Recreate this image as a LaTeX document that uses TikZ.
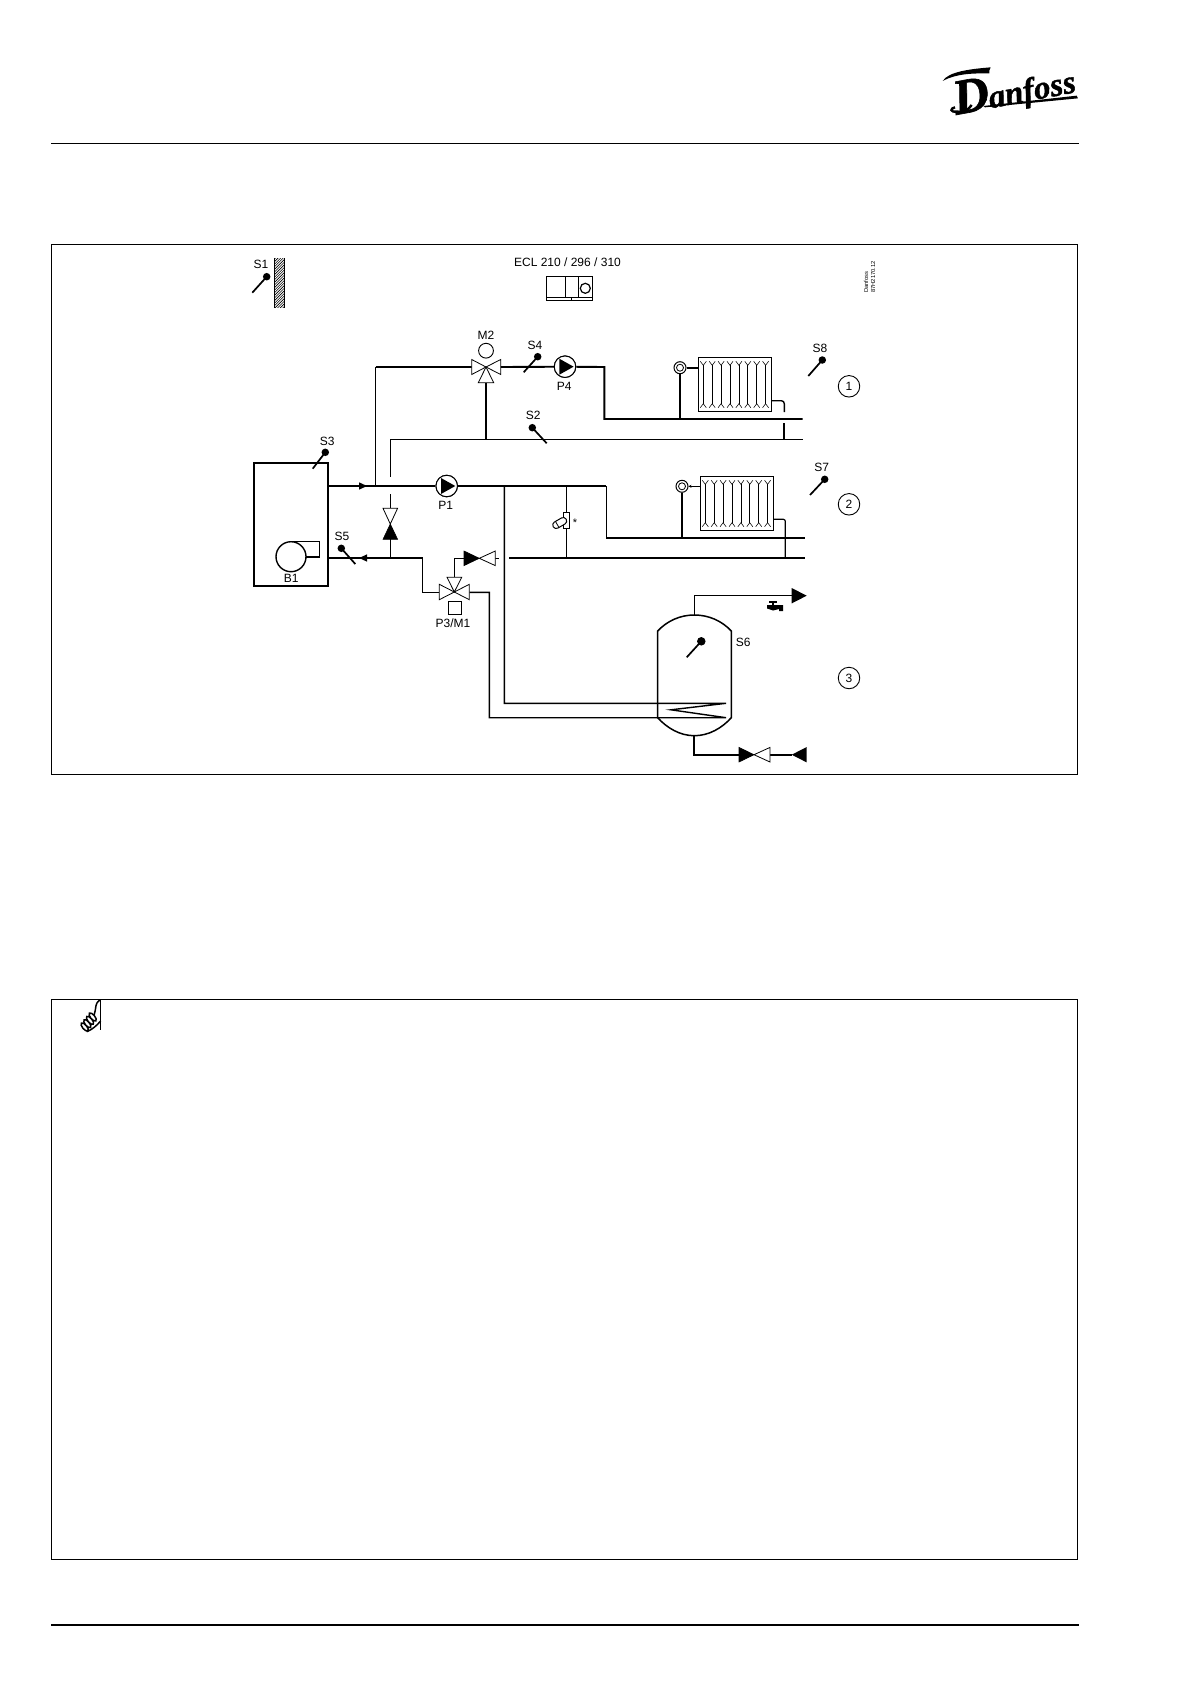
\documentclass[tikz,border=0pt]{standalone}
\usepackage{fontspec}
\usetikzlibrary{arrows.meta}
\setmainfont{Liberation Sans}
\newfontfamily\logofont[ItalicFeatures={FakeBold=1.2},BoldItalicFeatures={FakeBold=1.2}]{Liberation Serif}
\newcommand{\lbl}{\fontsize{12}{13}\selectfont}
\tikzset{
  thickpipe/.style={line width=1.9pt},
  thinpipe/.style={line width=1.2pt},
  midpipe/.style={line width=1.4pt},
  framebox/.style={line width=1pt},
  tag/.style={inner sep=0pt,font=\lbl},
  ball/.style={circle,fill=black,draw=none,inner sep=0pt,minimum size=7.5pt},
  stick/.style={line width=1.7pt},
  pumpbody/.style={circle,draw=black,line width=1pt,fill=white,inner sep=0pt,minimum size=21.5pt},
  hollowtri/.style={draw=black,line width=0.8pt,fill=white},
  solidtri/.style={draw=black,line width=0.6pt,fill=black},
  numring/.style={circle,draw=black,line width=0.9pt,inner sep=0pt,minimum size=21.5pt,font=\lbl},
}
\newcommand{\radiator}[3]{%
  \draw[line width=1pt] (#1,#2) rectangle ++(73.4,54.4);
  \foreach \i in {0,...,7}{
    \pgfmathsetmacro{\vx}{#1+5+\i*8.9}
    \draw[line width=0.55pt] (\vx-3,#2+4) -- (\vx,#2+8) -- (\vx+3,#2+4);
    \draw[line width=0.55pt] (\vx-3,#2+50.4) -- (\vx,#2+46.4) -- (\vx+3,#2+50.4);
    \draw[line width=0.7pt] (\vx,#2+8) -- (\vx,#2+46.4);
  }}
\begin{document}
\begin{tikzpicture}[x=1pt,y=-1pt]
\useasboundingbox (0,0) rectangle (1191,1684);
\fill[white] (0,0) rectangle (1191,1684);

% page furniture
\coordinate (hrL) at (51,143); \coordinate (hrR) at (1079,143);
\draw[line width=0.9pt] (hrL) -- (hrR);
\coordinate (frL) at (51,1625); \coordinate (frR) at (1079,1625);
\draw[line width=2.4pt] (frL) -- (frR);
\draw[framebox] (51.5,244) rectangle (1077,774);
\draw[framebox] (51.5,999) rectangle (1077,1559);

% logo
\begin{scope}[x=0.3333pt,y=-0.3333pt,shift={(940pt,-55pt)}]
  \node[anchor=base west,inner sep=0pt,rotate=10.8,font=\logofont\bfseries\itshape] (logo) at (48,180) {\fontsize{50}{50}\selectfont D\kern-1pt\fontsize{33}{33}\selectfont anfoss};
  \fill (8,78) .. controls (25,50) and (90,42) .. (152,37) .. controls (148,45) and (146,50) .. (148,55) .. controls (100,55) and (50,55) .. (8,78) -- cycle;
  \draw[line width=2.4pt] (95,150) .. controls (85,168) and (65,172) .. (50,170) .. controls (30,172) and (30,160) .. (45,157);
  \fill (130,153) -- (410,122) -- (414,130) -- (135,157) -- cycle;
\end{scope}

% hand note icon
\begin{scope}[x=0.3333pt,y=-0.3333pt,shift={(70pt,-995pt)}]
  \draw[line width=1.5pt] (92,15) -- (92,105);
  \draw[line width=1.5pt] (92,15) .. controls (82,18) and (78,25) .. (76,45) -- (72,62);
  \draw[line width=1.5pt] (50,110) .. controls (65,105) and (80,92) .. (92,78);
  \foreach \cx/\cy in {44/96,52/86,60/76,68/66}{
    \draw[line width=1.5pt,fill=white,rotate around={-50:(\cx,\cy)}] (\cx,\cy) ellipse (15 and 6.5);
  }
\end{scope}

% titles
\node[tag] (tS1) at (261,264) {S1};
\node[tag] (tECL) at (567.5,262.5) {ECL 210 / 296 / 310};
\node[tag,font=\fontsize{5.8}{6}\selectfont,rotate=90,anchor=west] (tDan) at (866,293) {Danfoss};
\node[tag,font=\fontsize{5.8}{6}\selectfont,rotate=90,anchor=west] (tNr) at (873,293) {87H2170.12};

% wall
\begin{scope}
  \clip (274.3,258.3) rectangle (284.3,307.7);
  \foreach \k in {0,2.6,...,75}{
    \draw[line width=0.6pt] (270,258.3+\k) -- (290,238.3+\k);
  }
\end{scope}
\draw[line width=1pt] (274.3,258.3) -- (274.3,307.7);
\draw[line width=1pt] (284.3,258.3) -- (284.3,307.7);

% controller
\draw[line width=0.9pt] (546.3,276.3) rectangle (592.7,300.3);
\draw[line width=0.8pt] (546.3,297.3) -- (592.7,297.3);
\draw[line width=0.8pt] (565.7,276.3) -- (565.7,297.3);
\draw[line width=0.8pt] (578.3,276.3) -- (578.3,297.3);
\draw[line width=1.2pt] (585.3,288.3) circle (5);
\draw[line width=0.8pt] (571.7,297.3) -- (571.7,300.3);

% pipe junction points
\coordinate (bFlow) at (328.3,486);
\coordinate (jM2) at (375.7,486);
\coordinate (m2L) at (375.7,367);
\coordinate (m2) at (486,367);
\coordinate (m2Lb) at (471.7,367);
\coordinate (m2Rb) at (500.7,367);
\coordinate (m2Bb) at (486,382.7);
\coordinate (c1a) at (604.3,367);
\coordinate (c1b) at (604.3,419);
\coordinate (c1e) at (802.7,419);
\coordinate (r1a) at (390.3,476.7);
\coordinate (r1b) at (390.3,439.3);
\coordinate (r1e) at (802.7,439.3);
\coordinate (r1j) at (486,439.3);
\coordinate (c2a) at (606.3,486);
\coordinate (c2b) at (606.3,538);
\coordinate (c2e) at (805,538);
\coordinate (jDhw) at (504.3,486);
\coordinate (dhwA) at (504.3,703.3);
\coordinate (dhwB) at (726,703.3);
\coordinate (coilM) at (671,709.8);
\coordinate (dhwC) at (726,717.7);
\coordinate (dhwD) at (489.3,717.7);
\coordinate (dhwE) at (489.3,592.3);
\coordinate (m1Rb) at (469.3,592.3);
\coordinate (bRet) at (328.3,558);
\coordinate (retA) at (422.7,558);
\coordinate (retB) at (422.7,592.3);
\coordinate (m1Lb) at (439.3,592.3);
\coordinate (m1) at (454.3,592);
\coordinate (m1T) at (454.3,577.3);
\coordinate (chkA) at (454.3,558.3);
\coordinate (chkB) at (464,558.3);
\coordinate (chkC) at (495.3,558.3);
\coordinate (chkD) at (499,558.3);
\coordinate (r2a) at (509,558);
\coordinate (r2e) at (805,558);
\coordinate (byT) at (390.3,494.3);
\coordinate (byU) at (390.3,508.3);
\coordinate (byM) at (390.3,524);
\coordinate (byL) at (390.3,539.3);
\coordinate (byB) at (390.3,558);
\coordinate (sbT) at (566.3,486);
\coordinate (sbB) at (566.3,558);

% pumps and symbols as nodes
\node[pumpbody] (P4) at (565,366.7) {};
\node[pumpbody] (P1) at (446.7,486) {};
\node[draw=black,line width=0.9pt,inner sep=0pt,minimum size=13pt] (M1box) at (454.8,607.8) {};
\node[circle,draw=black,line width=0.9pt,inner sep=0pt,minimum size=14.8pt] (M2mot) at (486,350.7) {};
\node[circle,draw=black,line width=1pt,inner sep=0pt,minimum size=12pt,fill=white] (v1) at (680,367.7) {};
\node[circle,draw=black,line width=0.8pt,inner sep=0pt,minimum size=7pt] at (v1) {};
\node[circle,draw=black,line width=1pt,inner sep=0pt,minimum size=12pt,fill=white] (v2) at (682,486.3) {};
\node[circle,draw=black,line width=0.8pt,inner sep=0pt,minimum size=7pt] at (v2) {};

% thick pipes
\draw[thickpipe] (m2L) -- (m2Lb);
\draw[thinpipe] (jM2) -- (m2L);
\draw[thickpipe] (m2Rb) -- (P4);
\draw[thickpipe] (P4) -- (c1a) -- (c1b) -- (c1e);
\draw[thinpipe] (r1a) -- (r1b) -- (r1e);
\draw[thinpipe] (m2Bb) -- (r1j);
\draw[thickpipe] (bFlow) -- (P1);
\draw[thickpipe] (P1) -- (c2a);
\draw[midpipe] (c2a) -- (c2b);
\draw[thickpipe] (c2b) -- (c2e);
\draw[midpipe] (jDhw) -- (dhwA) -- (dhwB) -- (coilM) -- (dhwC) -- (dhwD) -- (dhwE) -- (m1Rb);
\draw[thickpipe] (bRet) -- (retA);
\draw[midpipe] (retA) -- (retB) -- (m1Lb);
\draw[thinpipe] (m1T) -- (chkA) -- (chkB);
\draw[thinpipe] (chkC) -- (chkD);
\draw[thickpipe] (r2a) -- (r2e);
\draw[thinpipe] (byT) -- (byU);
\draw[thinpipe] (byL) -- (byB);
\draw[thinpipe] (sbT) -- (sbB);

% redraw pump bodies over the pipes
\node[pumpbody] at (P4) {};
\node[pumpbody] at (P1) {};
\fill (559.3,358.7) -- (573.6,366.7) -- (559.3,374.7) -- cycle;
\fill (441,478) -- (455.3,486) -- (441,494) -- cycle;

% flow arrows
\fill (359,482.3) -- (367,486) -- (359,489.7) -- cycle;
\fill (359.3,558) -- (367,554.3) -- (367,561.7) -- cycle;

% valve M2
\draw[hollowtri] (m2) -- (m2Lb |- 0,374.5) -- (m2Lb |- 0,359.5) -- cycle;
\draw[hollowtri] (m2) -- (m2Rb |- 0,374.5) -- (m2Rb |- 0,359.5) -- cycle;
\draw[hollowtri] (m2) -- (478.3,382.7) -- (493.7,382.7) -- cycle;
% valve M1
\draw[hollowtri] (m1) -- (439.3,599.7) -- (439.3,584.3) -- cycle;
\draw[hollowtri] (m1) -- (469.3,599.7) -- (469.3,584.3) -- cycle;
\draw[hollowtri] (m1) -- (447,577.3) -- (461.7,577.3) -- cycle;
% non-return valve
\draw[solidtri] (479.3,558.3) -- (464,551) -- (464,565.6) -- cycle;
\draw[hollowtri] (479.3,558.3) -- (495.3,551) -- (495.3,565.6) -- cycle;
% bypass valve
\draw[hollowtri] (byM) -- (383,508.3) -- (397.6,508.3) -- cycle;
\draw[solidtri] (byM) -- (383,539.3) -- (397.6,539.3) -- cycle;

% boiler
\draw[line width=1.7pt] (254,462.7) rectangle (328.3,586);
\node[circle,draw=black,line width=1.4pt,inner sep=0pt,minimum size=30pt] (burner) at (291,556.7) {};
\draw[line width=1.4pt] (291,541.7) -- (319.3,541.7) -- (319.3,557) -- (306,557);
\node[tag] (tB1) at (291.3,578.8) {B1};

% sensors
\node[ball] (sS1) at (266.7,276.7) {};   \coordinate (eS1) at (252.3,292.7);
\node[ball] (sS4) at (537.7,356.7) {};   \coordinate (eS4) at (523.7,372.3);
\node[ball] (sS2) at (532.3,427.7) {};   \coordinate (eS2) at (546.7,443.3);
\node[ball] (sS3) at (325.3,452.3) {};   \coordinate (eS3) at (312.7,468.7);
\node[ball] (sS5) at (341.3,548.3) {};   \coordinate (eS5) at (355.3,564);
\node[ball] (sS8) at (822.3,360) {};     \coordinate (eS8) at (808.3,376);
\node[ball] (sS7) at (824.7,479.3) {};   \coordinate (eS7) at (810,495);
\node[ball,minimum size=8.5pt] (sS6) at (701.3,641.3) {}; \coordinate (eS6) at (686.7,657.3);
\foreach \s in {S1,S4,S2,S3,S5,S8,S7,S6}{ \draw[stick] (s\s.center) -- (e\s); }

% labels
\node[tag] (tM2) at (486,335) {M2};
\node[tag] (tS4) at (535,345) {S4};
\node[tag] (tP4) at (564.3,386.7) {P4};
\node[tag] (tS2) at (533.3,415.3) {S2};
\node[tag] (tS3) at (327.3,441) {S3};
\node[tag] (tP1) at (445.7,505) {P1};
\node[tag] (tS5) at (342,536) {S5};
\node[tag] (tP3) at (453,623.3) {P3/M1};
\node[tag] (tS8) at (820,348.3) {S8};
\node[tag] (tS7) at (821.7,467.3) {S7};
\node[tag] (tS6) at (743.3,642.7) {S6};
\node[numring] (n1) at (849,386.3) {1};
\node[numring] (n2) at (849,504.3) {2};
\node[numring] (n3) at (849,678) {3};

% thermostatic element
\draw[line width=0.8pt,fill=white] (563.7,512.3) rectangle (569.3,528.7);
\node[draw=black,line width=1pt,fill=white,rotate=30,inner sep=0pt,minimum width=15pt,minimum height=7pt,rounded corners=3.4pt] (capsule) at (559.7,523) {};
\draw[line width=0.8pt] (555.5,521.5) -- (559,527.5);
\node[tag,font=\fontsize{11}{11}\selectfont] (tStar) at (575,523) {*};

% radiator 1
\radiator{698.3}{357.3}{}
\coordinate (rr1) at (698.3,367.7);
\draw[thickpipe] (v1) -- (rr1);
\coordinate (v1j) at (680,419);
\draw[thickpipe] (v1) -- (v1j);
\coordinate (ret1a) at (771.7,400.7);
\coordinate (ret1b) at (784.3,400.7);
\coordinate (ret1c) at (784.3,412);
\coordinate (ret1d) at (784.3,423);
\coordinate (ret1e) at (784.3,439.3);
\draw[thickpipe,rounded corners=3pt,line width=1.4pt] (ret1a) -- (ret1b) -- (ret1c);
\draw[thickpipe] (ret1d) -- (ret1e);

% radiator 2
\radiator{700.3}{476.3}{}
\coordinate (rr2) at (700.3,486.3);
\draw[thinpipe,-{Stealth[length=3pt,width=3pt]}] (rr2) -- (v2);
\coordinate (v2j) at (682,538);
\draw[thickpipe] (v2) -- (v2j);
\coordinate (ret2a) at (773.7,519.3);
\coordinate (ret2b) at (785.3,519.3);
\coordinate (ret2c) at (785.3,558);
\draw[thinpipe,rounded corners=2pt] (ret2a) -- (ret2b) -- (ret2c);

% tank
\coordinate (tTop) at (694.3,615);
\coordinate (tBot) at (694.3,735.7);
\draw[line width=1.5pt,fill=none] (657.7,631) .. controls (667,621) and (680,615) .. (tTop) .. controls (709,615) and (722,621) .. (731.3,631) -- (731.3,717.7) .. controls (722,728) and (709,735.7) .. (tBot) .. controls (680,735.7) and (667,728) .. (657.7,717.7) -- cycle;

% DHW out and cold in
\coordinate (dA) at (694.3,595.7);
\coordinate (dB) at (791.7,595.7);
\draw[thinpipe] (tTop) -- (dA) -- (dB);
\fill (791.7,588) -- (806.7,595.7) -- (791.7,603.4) -- cycle;
\coordinate (cA) at (694.3,754.7);
\coordinate (cB) at (739,754.7);
\coordinate (cC) at (770,754.7);
\coordinate (cD) at (791.7,754.7);
\draw[thickpipe] (tBot) -- (cA) -- (cB);
\draw[thickpipe] (cC) -- (cD);
\draw[solidtri] (754,754.7) -- (739,747.4) -- (739,762) -- cycle;
\draw[hollowtri] (754,754.7) -- (770,747.4) -- (770,762) -- cycle;
\fill (791.7,754.7) -- (806.7,747) -- (806.7,762.4) -- cycle;

% tap
\draw[line width=1.8pt] (769,601.6) -- (777,601.6);
\draw[line width=2pt] (773,601.6) -- (773,606);
\fill (767,605) -- (783,605) -- (783,611) -- (779,611) -- (779,609) -- (773,610.5) .. controls (770,610) and (769,608.5) .. (767,608.5) -- cycle;
\end{tikzpicture}
\end{document}
